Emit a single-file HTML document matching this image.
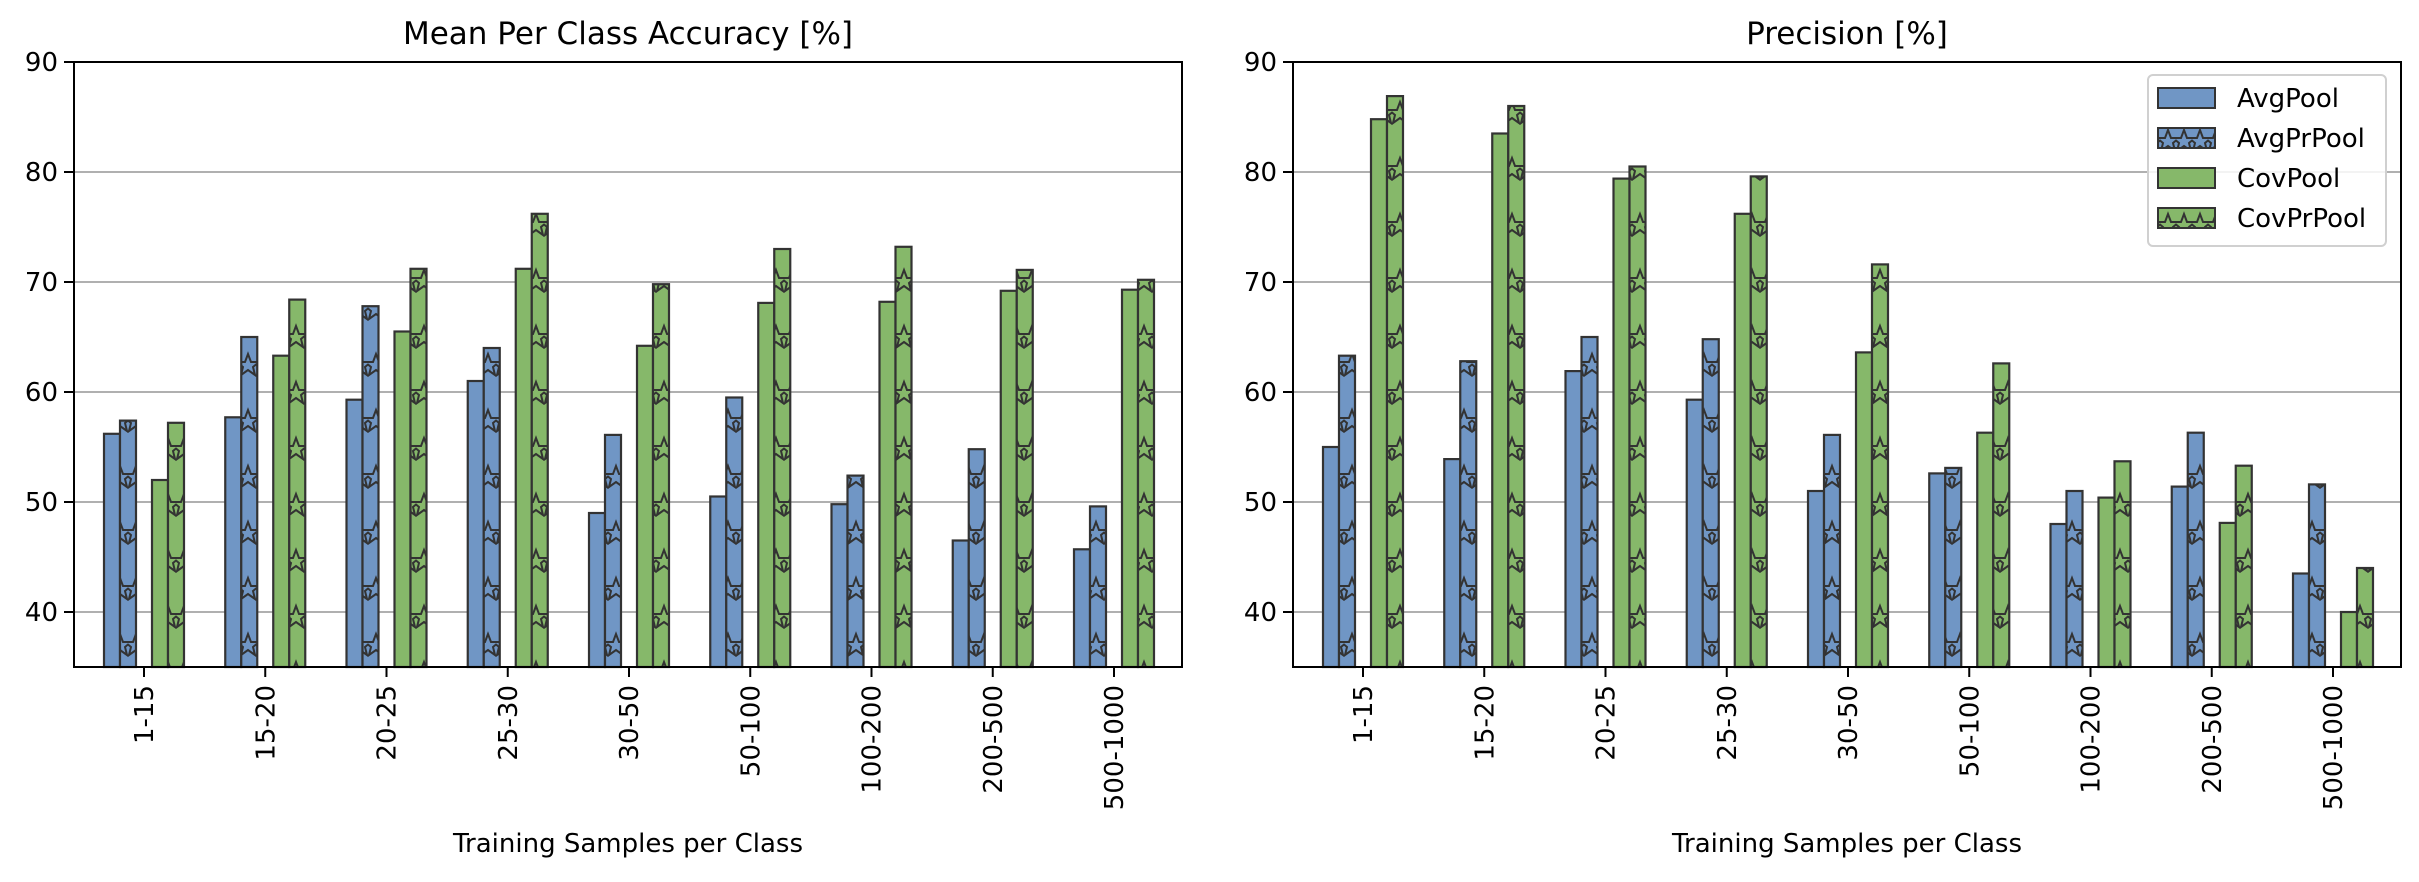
<!DOCTYPE html>
<html><head><meta charset="utf-8"><style>
body{margin:0;background:#fff}
svg text{font-family:"DejaVu Sans","Liberation Sans",sans-serif;fill:#000}
</style></head><body>
<svg id="chart" width="2419" height="877" viewBox="0 0 2419 877" xmlns="http://www.w3.org/2000/svg">
<defs>
<pattern id="starsB" patternUnits="userSpaceOnUse" width="16" height="56" x="0" y="0">
<rect width="16" height="56" fill="#7096c5"/>
<path d="M8 18 l3 8 8 0 -6 5 2 8 -7 -5 -7 5 2 -8 -6 -5 8 0z" fill="none" stroke="#333" stroke-width="2"/>
</pattern>
<pattern id="starsG" patternUnits="userSpaceOnUse" width="16" height="56" x="0" y="28">
<rect width="16" height="56" fill="#86b86a"/>
<path d="M8 18 l3 8 8 0 -6 5 2 8 -7 -5 -7 5 2 -8 -6 -5 8 0z" fill="none" stroke="#333" stroke-width="2"/>
</pattern>
</defs>
</svg>
<script>
const categories=["1-15","15-20","20-25","25-30","30-50","50-100","100-200","200-500","500-1000"];
const seriesNames=["AvgPool","AvgPrPool","CovPool","CovPrPool"];
const yTicks=[40,50,60,70,80,90];
const accAvgPool=[56.2,57.7,59.3,61,49,50.5,49.8,46.5,45.7];
const accAvgPrPool=[57.4,65,67.8,64,56.1,59.5,52.4,54.8,49.6];
const accCovPool=[52,63.3,65.5,71.2,64.2,68.1,68.2,69.2,69.3];
const accCovPrPool=[57.2,68.4,71.2,76.2,69.8,73,73.2,71.1,70.2];
const precAvgPool=[55,53.9,61.9,59.3,51,52.6,48,51.4,43.5];
const precAvgPrPool=[63.3,62.8,65,64.8,56.1,53.1,51,56.3,51.6];
const precCovPool=[84.8,83.5,79.4,76.2,63.6,56.3,50.4,48.1,40];
const precCovPrPool=[86.9,86,80.5,79.6,71.6,62.6,53.7,53.3,44];

const NS="http://www.w3.org/2000/svg";
const svg=document.getElementById('chart');
const fills=["#7096c5","url(#starsB)","#86b86a","url(#starsG)"];
const offs=[-40,-24,8,24];
function mk(tag,attrs,parent,txt){const e=document.createElementNS(NS,tag);for(const k in attrs)e.setAttribute(k,attrs[k]);if(txt!==undefined)e.textContent=txt;(parent||svg).appendChild(e);return e;}

function drawChart(x0,x1,title,series,key,legend){
  const top=62,bot=667,ymin=35,ymax=90;
  const y=v=>top+(ymax-v)*(bot-top)/(ymax-ymin);
  const xs=i=>x0+70+i*121.25*(x1-x0)/1108;
  const g=mk('g',{});
  
  
  yTicks.forEach(t=>{
    const l=mk('line',{x1:x0,x2:x1,y1:y(t),y2:y(t),stroke:'#b0b0b0','stroke-width':2},g);
    
    mk('line',{x1:x0-10,x2:x0,y1:y(t),y2:y(t),stroke:'#000','stroke-width':2},g);
    const tx=mk('text',{x:x0-16,y:y(t)+9,'text-anchor':'end','font-size':26},g,t);
    
  });
  series.forEach((arr,s)=>{
    arr.forEach((v,i)=>{
      const r=mk('rect',{x:xs(i)+offs[s],y:y(v),width:16,height:bot-y(v),fill:fills[s],stroke:'#333','stroke-width':2.2},g);
      
      
    });
  });
  categories.forEach((c,i)=>{
    mk('line',{x1:xs(i),x2:xs(i),y1:bot,y2:bot+10,stroke:'#000','stroke-width':2},g);
    const t=mk('text',{transform:`translate(${xs(i)+9},${bot+18}) rotate(-90)`,'text-anchor':'end','font-size':26},g,c);
    
  });
  mk('rect',{x:x0,y:top,width:x1-x0,height:bot-top,fill:'none',stroke:'#000','stroke-width':2},g);
  const tt=mk('text',{x:(x0+x1)/2,y:44,'text-anchor':'middle','font-size':31},g,title);
  
  const xl=mk('text',{x:(x0+x1)/2,y:852,'text-anchor':'middle','font-size':26},g,'Training Samples per Class');
  
  if(legend){
    const lg=mk('g',{},g);
    
    mk('rect',{x:2148,y:75,width:238,height:171,rx:5,fill:'#fff','fill-opacity':0.85,stroke:'#d0d0d0','stroke-width':2},lg);
    seriesNames.forEach((n,s)=>{
      const ey=98+s*40;
      mk('rect',{x:2158,y:ey-10,width:57,height:20,fill:fills[s],stroke:'#333','stroke-width':2},lg);
      const t=mk('text',{x:2237,y:ey+9,'font-size':26},lg,n);
      
    });
  }
}
drawChart(74,1182,'Mean Per Class Accuracy [%]',[accAvgPool,accAvgPrPool,accCovPool,accCovPrPool],'accuracy',false);
drawChart(1293,2401,'Precision [%]',[precAvgPool,precAvgPrPool,precCovPool,precCovPrPool],'precision',true);
</script>
</body></html>
